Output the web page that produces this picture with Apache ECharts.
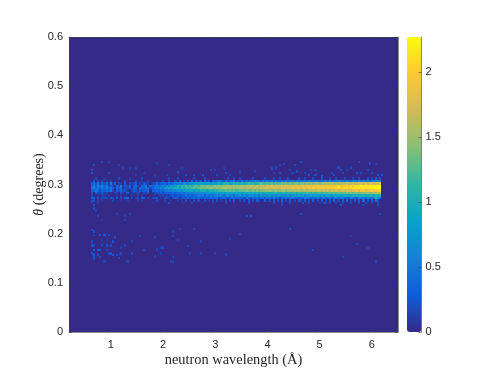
<!DOCTYPE html>
<html>
<head>
<meta charset="utf-8">
<title>neutron wavelength map</title>
<script src="https://cdn.jsdelivr.net/npm/echarts@6/dist/echarts.min.js"></script>
<style>
html,body{margin:0;padding:0;background:#fff;}
#main{width:490px;height:383px;}
</style>
</head>
<body>
<div id="main"></div>
<script>
// tick labels
var xTicks = [1, 2, 3, 4, 5, 6];
var yTicks = [0, 0.1, 0.2, 0.3, 0.4, 0.5, 0.6];
var barTicks = [0, 0.5, 1, 1.5, 2];
var parula = ['#352a87', '#0f5cdd', '#1481d6', '#06a4ca', '#2eb7a4', '#87bf77', '#d1bb59', '#fec832', '#f9fb0e'];

// wavelength of the first column, one column every 0.04 A
var firstLambda = 0.64;
var lambdaStep = 0.04;
var thetaStep = 0.005;
// theta of every row in bandRows
var bandTheta = [0.3125, 0.3075, 0.3025, 0.2975, 0.2925, 0.2875, 0.2825, 0.2775, 0.2725, 0.2675, 0.2625];
// one char per column, value = index in levelChars / 10, spaces are only there for reading
var levelChars = '0123456789abcdefghijklmn';
var bandRows = [
    '0020001000 0002000010 0000200000 0000000200 0200000002 0000200000 0000020020 0200000200 0002000200 2000200002 0020002000 2000200200 0200020020 002020302',
    '0302020102 0100002000 0200100200 0100200200 2030203040 3240423043 4542524452 4253535455 4353545354 3545455454 5454654554 5464645565 5465456565 656456676',
    '3425142415 1302103021 2302132102 2423342434 5565766777 8898889788 9a9bab9aba bababcbcab cdccdcdcdc dedededeed eeefefeffe ffgfggfgfg gghgghgghh hihiihiij',
    '4536464523 2042513240 3420435143 4545657687 8a9bacbcbc dcdedeedef efeffgffgf fggfgghggh ghhghhihhi hihiihiiji ijijjijjkj jkjkkjkklk kklklklllm lmlmmmmnn',
    '5645354635 3143502231 4304345423 5456578989 aa9babcbcd cdedeeefee fefggfgfff fggfghgghg ghhhihhihh hiihiijiij ijjijjkjjk jkjkkkkllk kllkllmlml mlmmmnnnn',
    '4354243435 2032423102 3213233403 3434455656 6777888998 99aaa9abab bcccdcdcdc cdddeddede deeeefeefe effefffgfg ffgfgggghg ghghghhihh ihiihiijij jijjkjkkl',
    '2032131201 0210210301 1121021201 2223233334 3445455556 6667678788 8788898989 89899a9a9a 9a9aa9aaba aabababbab bbbcbbcbcc bcccdcdcdd ddededeede effefgfgg',
    '2001021010 0010100001 0010100000 1011212123 2323343434 4545354545 6564675646 6756576757 5767686767 7676867878 7868797887 8789879898 9a989a9a9a a9aba9bab',
    '3303022203 2030203402 0220330202 2301022202 3212324234 3432433434 4234323443 4342532434 3453443534 2435345343 4354534453 4534534645 5343654365 546456a74',
    '0201010000 2000100100 0010100000 0200010010 0101020102 0200201020 2010202030 0202030203 2003020302 0302030203 2030203020 3020304020 3040203030 403030420',
    '0001000000 0000000000 0000000001 0000000200 0000100020 0001000010 0000200010 0000020000 0000000200 0200020000 0200200002 0200200200 2000200020 020020020'
];

// single cells away from the band: wavelength, theta, value
var strayAbove = [
    [0.84,0.346,0.2],[0.96,0.346,0.15],[1.16,0.34,0.15],[0.68,0.34,0.2],[0.64,0.33,0.2],[0.64,0.323,0.25],[0.96,0.323,0.15],
    [1.24,0.335,0.15],[1.36,0.333,0.15],[1.48,0.333,0.15],[1.88,0.343,0.15],[2.12,0.34,0.15],[2.36,0.333,0.15],[2.28,0.324,0.2],
    [1.48,0.319,0.15],[1.64,0.323,0.15],[1.84,0.316,0.15],[2.08,0.319,0.2],[2.44,0.319,0.25],[2.6,0.319,0.2],[2.76,0.319,0.25],
    [2.92,0.33,0.2],[3,0.33,0.15],[3.16,0.333,0.15],[3.2,0.323,0.25],[3.04,0.319,0.2],[4.64,0.346,0.2],[4.52,0.34,0.2],
    [4.32,0.342,0.15],[4.24,0.34,0.15],[4.16,0.335,0.15],[4.08,0.333,0.2],[3.76,0.326,0.15],[3.48,0.326,0.15],[3.28,0.319,0.2],
    [4.12,0.323,0.15],[4.24,0.323,0.2],[4.44,0.33,0.15],[4.56,0.326,0.2],[4.48,0.323,0.15],[4.72,0.323,0.2],[4.84,0.33,0.15],
    [4.92,0.33,0.2],[4.8,0.319,0.25],[4.92,0.319,0.2],[5.04,0.316,0.25],[5.24,0.323,0.2],[5.28,0.319,0.2],[5.36,0.335,0.2],
    [5.4,0.33,0.2],[5.52,0.33,0.15],[5.6,0.335,0.2],[5.44,0.323,0.2],[5.72,0.323,0.25],[5.76,0.346,0.2],[5.8,0.323,0.2],
    [5.92,0.33,0.2],[5.96,0.343,0.2],[6.08,0.342,0.2],[6,0.323,0.2],[6.12,0.319,0.25],[6.2,0.319,0.25]
];
var strayBelow = [
    [0.68,0.251,0.2],[0.72,0.247,0.15],[0.76,0.236,0.2],[0.84,0.228,0.15],[1.12,0.24,0.15],[1.28,0.236,0.15],[1.28,0.228,0.15],
    [1.36,0.24,0.15],[0.68,0.258,0.25],[0.64,0.265,0.2],[3.6,0.236,0.25],[3.68,0.236,0.2],[4.64,0.24,0.2],[4.44,0.21,0.2],
    [3.48,0.199,0.2],[3.28,0.19,0.15],[5.6,0.195,0.15],[5.72,0.179,0.2],[5.92,0.171,0.2],[4.88,0.167,0.2],[5.44,0.152,0.2],
    [6.08,0.143,0.15],[6.16,0.24,0.2],[6.12,0.258,0.2],[4.28,0.258,0.2],[5.4,0.258,0.25],[5.12,0.262,0.2],[5.84,0.258,0.2],
    [2.2,0.204,0.15],[2.32,0.21,0.15],[2.6,0.21,0.15],[2.2,0.195,0.15],[2.28,0.187,0.15],[2.48,0.175,0.2],[2.72,0.184,0.15],
    [1.56,0.195,0.15],[1.84,0.192,0.15],[1.96,0.172,0.15],[2,0.172,0.15],[1.64,0.167,0.2],[1.88,0.168,0.15],[1.84,0.155,0.15],
    [2.2,0.152,0.15],[2.16,0.143,0.15],[2.2,0.143,0.15],[2.52,0.16,0.15],[2.72,0.16,0.15],[3,0.16,0.15],[3.2,0.158,0.2]
];
var strayCluster = [
    [0.64,0.207,0.2],[0.68,0.204,0.2],[0.68,0.197,0.15],[0.8,0.197,0.2],[0.88,0.197,0.25],[0.96,0.197,0.2],[1.08,0.192,0.2],
    [1.04,0.184,0.25],[0.84,0.187,0.15],[0.92,0.187,0.15],[0.64,0.184,0.2],[0.64,0.176,0.25],[0.68,0.176,0.15],[0.84,0.177,0.2],
    [0.92,0.176,0.25],[1,0.176,0.2],[1.2,0.171,0.2],[0.68,0.167,0.35],[0.76,0.167,0.3],[0.8,0.167,0.25],[0.92,0.167,0.2],
    [0.64,0.16,0.2],[0.68,0.158,0.25],[0.76,0.158,0.2],[0.96,0.16,0.2],[1,0.16,0.25],[1.04,0.157,0.25],[1.12,0.157,0.2],
    [1.2,0.16,0.2],[0.68,0.153,0.25],[0.8,0.153,0.2],[1.16,0.151,0.2],[0.68,0.148,0.2],[0.88,0.143,0.15],[1.32,0.143,0.15],
    [1.4,0.184,0.15],[1.28,0.176,0.15],[2,0.171,0.2],[1.4,0.16,0.2],[1.96,0.16,0.15]
];

// band strings and stray lists into [x, y, value] for the series
var cells = [];
bandRows.forEach(function (row, r) {
    var chars = row.replace(/ /g, '');
    for (var i = 0; i < chars.length; i++) {
        var v = levelChars.indexOf(chars[i]) / 10;
        if (v > 0) cells.push([firstLambda + i * lambdaStep, bandTheta[r], v]);
    }
});
cells = cells.concat(strayAbove, strayBelow, strayCluster);

var labelColor = '#262626';
var lineStyle = {color: '#404040', width: 0.6};
var sansFont = '"Liberation Sans", Arial, sans-serif';
var serifFont = '"Liberation Serif", serif';

var myChart = echarts.init(document.getElementById('main'));
var option = {
    animation: false,
    backgroundColor: '#ffffff',
    grid: [
        {left: 69, top: 37, width: 329, height: 295, show: true, backgroundColor: parula[0], borderWidth: 0},
        {left: 407, top: 37, width: 14.5, height: 295}
    ],
    xAxis: [
        {
            type: 'value', gridIndex: 0, min: 0.2, max: 6.5,
            splitLine: {show: false},
            axisLine: {show: true, onZero: false, lineStyle: lineStyle},
            axisTick: {show: true, inside: true, length: 3, lineStyle: lineStyle, customValues: xTicks},
            axisLabel: {color: labelColor, fontFamily: sansFont, fontSize: 11, margin: 7, customValues: xTicks},
            name: 'neutron wavelength (Å)',
            nameLocation: 'middle',
            nameGap: 21,
            nameMoveOverlap: false,
            nameTextStyle: {color: labelColor, fontFamily: serifFont, fontSize: 14.4}
        },
        {
            // top edge of the box
            type: 'value', gridIndex: 0, position: 'top', min: 0.2, max: 6.5,
            splitLine: {show: false},
            axisLine: {show: true, onZero: false, lineStyle: lineStyle},
            axisTick: {show: true, inside: true, length: 3, lineStyle: lineStyle, customValues: xTicks},
            axisLabel: {show: false}
        },
        {type: 'value', gridIndex: 1, min: 0, max: 1, show: false}
    ],
    yAxis: [
        {
            type: 'value', gridIndex: 0, min: 0, max: 0.6, interval: 0.1,
            splitLine: {show: false},
            axisLine: {show: true, onZero: false, lineStyle: lineStyle},
            axisTick: {show: true, inside: true, length: 3, lineStyle: lineStyle},
            axisLabel: {
                color: labelColor, fontFamily: sansFont, fontSize: 11, margin: 6,
                formatter: function (val) { return String(+val.toFixed(1)); }
            },
            name: '{t|θ} (degrees)',
            nameLocation: 'middle',
            nameGap: 23,
            nameMoveOverlap: false,
            nameRotate: 90,
            nameTextStyle: {
                color: labelColor, fontFamily: serifFont, fontSize: 14,
                rich: {t: {fontStyle: 'italic', fontFamily: serifFont, fontSize: 14, color: labelColor}}
            }
        },
        {
            // right edge of the box
            type: 'value', gridIndex: 0, position: 'right', min: 0, max: 0.6, interval: 0.1,
            splitLine: {show: false},
            axisLine: {show: true, onZero: false, lineStyle: lineStyle},
            axisTick: {show: true, inside: true, length: 3, lineStyle: lineStyle},
            axisLabel: {show: false}
        },
        {
            // colour bar scale
            type: 'value', gridIndex: 1, position: 'right', min: 0, max: 2.27, z: 6,
            splitLine: {show: false},
            axisLine: {show: true, onZero: false, lineStyle: lineStyle},
            axisTick: {show: true, inside: true, length: 3, lineStyle: lineStyle, customValues: barTicks},
            axisLabel: {color: labelColor, fontFamily: sansFont, fontSize: 11, margin: 4, customValues: barTicks}
        }
    ],
    visualMap: {
        type: 'continuous',
        seriesIndex: 0,
        dimension: 2,
        min: 0,
        max: 2.27,
        left: 407,
        top: 37,
        itemWidth: 14.5,
        itemHeight: 295,
        padding: 0,
        text: null,
        showLabel: false,
        calculable: false,
        hoverLink: false,
        inRange: {color: parula}
    },
    series: [{
        type: 'custom',
        xAxisIndex: 0,
        yAxisIndex: 0,
        data: cells,
        encode: {x: 0, y: 1},
        clip: true,
        silent: true,
        renderItem: function (params, api) {
            var p = api.coord([api.value(0), api.value(1)]);
            var s = api.size([lambdaStep, thetaStep]);
            // round the edges to whole pixels so no seams show between cells
            var x0 = Math.round(p[0] - s[0] / 2), x1 = Math.round(p[0] + s[0] / 2);
            var y0 = Math.round(p[1] - s[1] / 2), y1 = Math.round(p[1] + s[1] / 2);
            return {
                type: 'rect',
                shape: {x: x0, y: y0, width: x1 - x0, height: y1 - y0},
                style: {fill: api.visual('color')}
            };
        }
    }]
};
myChart.setOption(option);
</script>
</body>
</html>
